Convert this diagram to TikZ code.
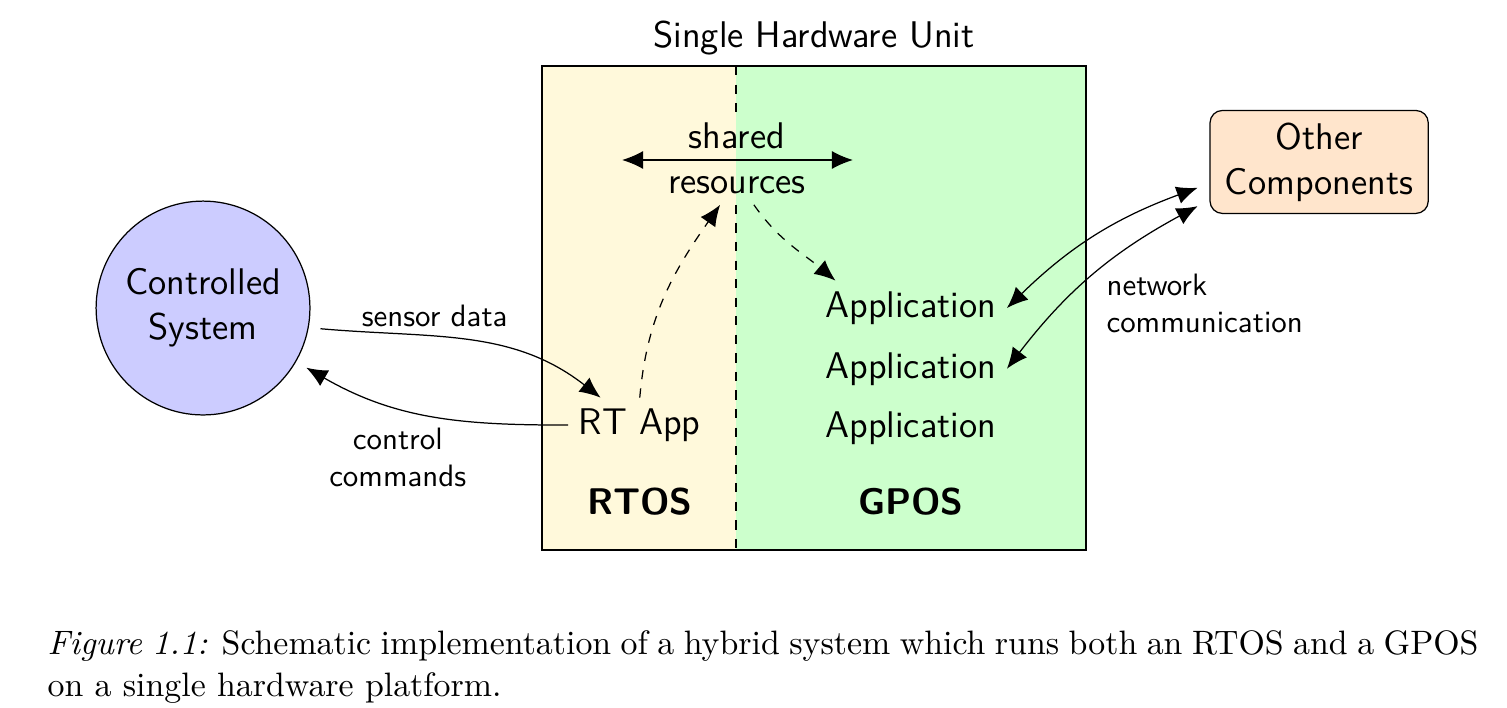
\documentclass[tikz,border=0pt]{standalone}
\usetikzlibrary{arrows.meta, positioning}

\definecolor{rtosyellow}{RGB}{255,249,219}
\definecolor{gposgreen}{RGB}{204,255,204}
\definecolor{sysblue}{RGB}{204,204,255}
\definecolor{comporange}{RGB}{255,229,204}

\begin{document}
\begin{tikzpicture}
	\tikzset{
		big text/.style={
			font=\sffamily\fontsize{12}{14.5}\selectfont,
			align=center
		},
		small text/.style={
			font=\sffamily\fontsize{10}{12}\selectfont,
			align=center
		},
		os name/.style={
			font=\sffamily\bfseries\fontsize{12}{14.5}\selectfont
		},
		link/.style={-{Latex[length=6.8pt, width=5.8pt]}},
		dlink/.style={{Latex[length=6.8pt, width=5.8pt]}-{Latex[length=6.8pt, width=5.8pt]}},
	}
	\useasboundingbox (0,0) rectangle (17.125,-8.034);

	% hardware unit
	\coordinate (hwnw) at (6.159,-0.75);
	\coordinate (hwse) at (12.341,-6.25);
	\coordinate (divtop) at (8.364,-0.75);
	\coordinate (divbot) at (8.364,-6.25);
	\fill[rtosyellow] (hwnw) rectangle (divbot);
	\fill[gposgreen] (divtop) rectangle (hwse);
	\draw (hwnw) rectangle (hwse);
	\node[big text, above] (title) at (9.25,-0.75) {Single Hardware Unit};

	\node[big text] (sr) at (8.375,-1.80) {shared\\resources};
	\draw[dashed] (divtop) -- (divtop |- sr.north);
	\draw[dashed] (divtop |- sr.south) -- (divbot);
	\coordinate (srl) at (7.068,-1.818);
	\coordinate (srr) at (9.693,-1.818);
	\draw[dlink] (srl) -- (srr);

	\node[big text] (rt) at (7.27,-4.83) {RT App};
	\node[os name] (rtos) at (7.27,-5.70) {RTOS};
	\node[os name] (gpos) at (10.35,-5.70) {GPOS};
	\node[big text] (app1) at (10.35,-3.50) {Application};
	\node[big text] (app2) at (10.35,-4.19) {Application};
	\node[big text] (app3) at (10.35,-4.87) {Application};

	% outside
	\node[circle, draw, fill=sysblue, minimum size=2.43cm, outer sep=4pt, big text] (cs) at (2.307,-3.50) {Controlled\\System};
	\node[draw, rounded corners=4pt, fill=comporange, minimum width=2.48cm, minimum height=1.17cm, outer sep=4pt, big text] (oc) at (14.99,-1.84) {Other\\Components};

	\node[small text] (sd) at (4.94,-3.59) {sensor data};
	\node[small text] (cc) at (4.52,-5.20) {control\\commands};
	\node[small text, anchor=west, align=left] (nc) at (12.45,-3.45) {network\\communication};

	\draw[link] (cs.-10) to[out=-5, in=142] (rt.145);
	\draw[link] (rt.west) to[out=180, in=-30] (cs.-30);
	\draw[link, dashed] (rt.north) to[out=85, in=-125] (sr.-110);
	\draw[link, dashed] (sr.-70) to[out=-55, in=140] (app1.160);
	\draw[dlink] (app1.east) to[bend left=12] (oc.192);
	\draw[dlink] (app2.east) to[bend left=12] (oc.200);

	\node[anchor=north west, text width=16.26cm, align=justify, inner sep=0pt, font=\fontsize{10.95}{13.6}\selectfont] (caption) at (0.534,-7.16) {\textit{Figure 1.1:} Schematic implementation of a hybrid system which runs both an RTOS and a GPOS on a single hardware platform.};
\end{tikzpicture}
\end{document}
